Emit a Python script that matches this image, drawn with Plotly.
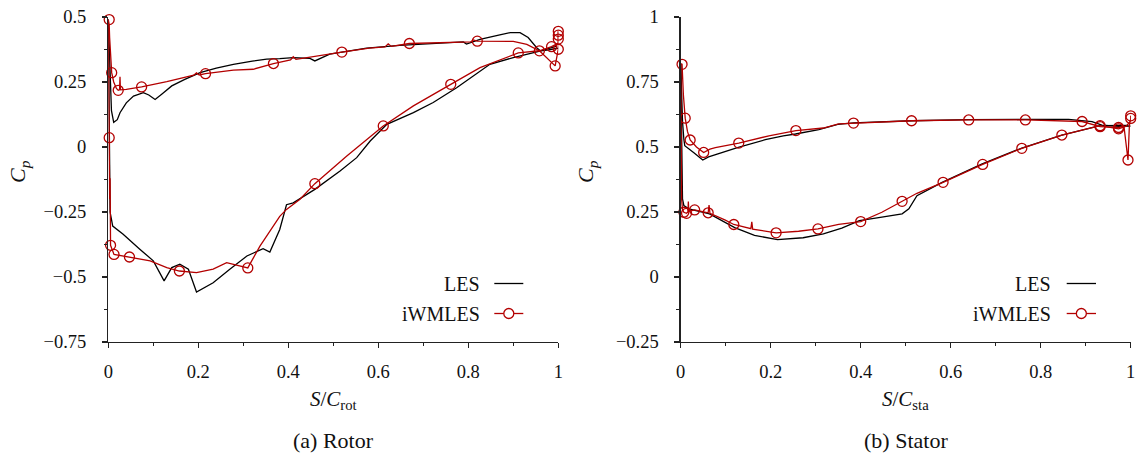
import plotly.graph_objects as go

# ---------------- Data ----------------
# Rotor, LES
rot_les_up_s = [0.0, 0.002, 0.004, 0.007, 0.012, 0.02, 0.026, 0.04, 0.056, 0.078, 0.09, 0.104, 0.12, 0.141, 0.17, 0.204, 0.24, 0.278, 0.32, 0.352, 0.381, 0.411, 0.448, 0.459, 0.492, 0.574, 0.648, 0.722, 0.789, 0.796, 0.826, 0.87, 0.893, 0.915, 0.933, 0.952, 0.96, 0.98, 1.0]
rot_les_up_cp = [0.49, 0.40, 0.25, 0.14, 0.095, 0.105, 0.132, 0.17, 0.196, 0.209, 0.2, 0.183, 0.205, 0.235, 0.26, 0.286, 0.303, 0.318, 0.33, 0.338, 0.34, 0.344, 0.341, 0.331, 0.357, 0.38, 0.391, 0.399, 0.404, 0.396, 0.414, 0.431, 0.44, 0.44, 0.421, 0.382, 0.37, 0.374, 0.38]
rot_les_lo_s = [0.0, 0.001, 0.002, 0.004, 0.0098, 0.033, 0.07, 0.1, 0.124, 0.141, 0.159, 0.178, 0.196, 0.233, 0.27, 0.308, 0.344, 0.359, 0.381, 0.396, 0.411, 0.459, 0.515, 0.552, 0.582, 0.619, 0.678, 0.722, 0.774, 0.811, 0.848, 0.9, 0.959, 0.996]
rot_les_lo_cp = [0.49, 0.2, -0.1, -0.25, -0.304, -0.336, -0.393, -0.438, -0.515, -0.464, -0.451, -0.47, -0.558, -0.522, -0.47, -0.419, -0.391, -0.404, -0.317, -0.222, -0.215, -0.163, -0.092, -0.041, 0.023, 0.087, 0.132, 0.171, 0.228, 0.273, 0.318, 0.344, 0.369, 0.388]

# Rotor, iWMLES
rot_iw_up_s = [0.0, 0.002, 0.003, 0.004, 0.005, 0.0075, 0.012, 0.018, 0.022, 0.025, 0.026, 0.027, 0.04, 0.074, 0.13, 0.19, 0.196, 0.202, 0.216, 0.278, 0.322, 0.367, 0.405, 0.411, 0.417, 0.46, 0.519, 0.58, 0.615, 0.622, 0.629, 0.669, 0.75, 0.805, 0.811, 0.82, 0.9, 0.93, 0.958, 0.985, 1.0, 1.0, 1.0]
rot_iw_up_cp = [0.49, 0.47, 0.42, 0.38, 0.33, 0.286, 0.25, 0.225, 0.218, 0.22, 0.27, 0.22, 0.222, 0.231, 0.251, 0.276, 0.285, 0.277, 0.282, 0.296, 0.299, 0.321, 0.335, 0.347, 0.337, 0.35, 0.365, 0.38, 0.385, 0.397, 0.387, 0.398, 0.403, 0.404, 0.412, 0.407, 0.406, 0.395, 0.37, 0.386, 0.40, 0.43, 0.445]
rot_iw_lo_s = [0.0, 0.001, 0.002, 0.002, 0.003, 0.004, 0.004, 0.005, 0.0127, 0.047, 0.093, 0.13, 0.158, 0.196, 0.233, 0.263, 0.285, 0.31, 0.337, 0.367, 0.381, 0.396, 0.426, 0.459, 0.53, 0.611, 0.678, 0.761, 0.826, 0.911, 0.958, 0.993, 1.0, 1.0, 1.0]
rot_iw_lo_cp = [0.49, 0.3, 0.036, -0.1, -0.2, -0.12, -0.3, -0.378, -0.413, -0.423, -0.438, -0.464, -0.477, -0.483, -0.47, -0.445, -0.455, -0.465, -0.381, -0.304, -0.267, -0.24, -0.201, -0.141, -0.035, 0.081, 0.158, 0.241, 0.305, 0.362, 0.37, 0.312, 0.376, 0.42, 0.445]
rot_iw_mk_s = [0.002, 0.0075, 0.022, 0.074, 0.216, 0.367, 0.519, 0.669, 0.82, 0.958, 1.0, 1.0, 1.0, 0.002, 0.005, 0.0127, 0.047, 0.158, 0.31, 0.459, 0.611, 0.761, 0.911, 0.985, 0.993, 1.0]
rot_iw_mk_cp = [0.49, 0.286, 0.218, 0.231, 0.282, 0.321, 0.365, 0.398, 0.407, 0.37, 0.445, 0.43, 0.415, 0.036, -0.378, -0.413, -0.423, -0.477, -0.465, -0.141, 0.081, 0.241, 0.362, 0.386, 0.312, 0.376]

# Stator, LES
sta_les_up_s = [0.0, 0.002, 0.004, 0.007, 0.009, 0.03, 0.049, 0.062, 0.077, 0.126, 0.188, 0.228, 0.255, 0.307, 0.349, 0.384, 0.514, 0.64, 0.766, 0.862, 0.914, 0.936, 0.973, 1.0]
sta_les_up_cp = [0.82, 0.7, 0.6, 0.53, 0.505, 0.477, 0.45, 0.462, 0.47, 0.498, 0.528, 0.543, 0.55, 0.567, 0.587, 0.593, 0.601, 0.605, 0.606, 0.606, 0.598, 0.584, 0.579, 0.58]
sta_les_lo_s = [0.0, 0.001, 0.002, 0.004, 0.007, 0.018, 0.064, 0.12, 0.164, 0.215, 0.272, 0.317, 0.358, 0.397, 0.44, 0.492, 0.507, 0.525, 0.581, 0.67, 0.758, 0.847, 0.932, 0.995]
sta_les_lo_cp = [0.82, 0.6, 0.4, 0.3, 0.275, 0.262, 0.243, 0.19, 0.16, 0.144, 0.151, 0.166, 0.188, 0.217, 0.228, 0.243, 0.262, 0.313, 0.364, 0.435, 0.496, 0.546, 0.582, 0.583]

# Stator, iWMLES
sta_iw_up_s = [0.0, 0.003, 0.006, 0.01, 0.015, 0.021, 0.035, 0.051, 0.065, 0.077, 0.129, 0.196, 0.256, 0.317, 0.351, 0.384, 0.513, 0.64, 0.766, 0.892, 0.932, 0.973, 0.985, 0.994, 0.997, 1.0, 1.0]
sta_iw_up_cp = [0.82, 0.818, 0.7, 0.611, 0.56, 0.527, 0.5, 0.479, 0.492, 0.498, 0.515, 0.543, 0.563, 0.573, 0.589, 0.592, 0.601, 0.604, 0.604, 0.598, 0.578, 0.575, 0.58, 0.45, 0.58, 0.61, 0.62]
sta_iw_lo_s = [0.0, 0.001, 0.002, 0.004, 0.007, 0.013, 0.016, 0.017, 0.018, 0.031, 0.061, 0.063, 0.065, 0.098, 0.118, 0.156, 0.158, 0.16, 0.212, 0.262, 0.305, 0.351, 0.4, 0.447, 0.492, 0.525, 0.583, 0.671, 0.758, 0.847, 0.932, 0.973, 0.99, 1.0, 1.0]
sta_iw_lo_cp = [0.82, 0.5, 0.3, 0.26, 0.249, 0.245, 0.25, 0.29, 0.252, 0.258, 0.247, 0.277, 0.245, 0.22, 0.202, 0.186, 0.212, 0.184, 0.17, 0.176, 0.185, 0.202, 0.213, 0.249, 0.291, 0.322, 0.364, 0.433, 0.495, 0.546, 0.582, 0.57, 0.58, 0.6, 0.62]
sta_iw_mk_s = [0.003, 0.01, 0.021, 0.051, 0.129, 0.256, 0.384, 0.513, 0.64, 0.766, 0.892, 0.932, 0.973, 0.994, 1.0, 1.0, 0.007, 0.013, 0.031, 0.061, 0.118, 0.212, 0.305, 0.4, 0.492, 0.583, 0.671, 0.758, 0.847, 0.932, 0.973]
sta_iw_mk_cp = [0.818, 0.611, 0.527, 0.479, 0.515, 0.563, 0.592, 0.601, 0.604, 0.604, 0.598, 0.578, 0.575, 0.45, 0.62, 0.61, 0.249, 0.245, 0.258, 0.247, 0.202, 0.17, 0.185, 0.213, 0.291, 0.364, 0.433, 0.495, 0.546, 0.582, 0.57]

x_ticks = [0, 0.2, 0.4, 0.6, 0.8, 1]
x_tick_text = ["0", "0.2", "0.4", "0.6", "0.8", "1"]
rot_y_ticks = [-0.75, -0.5, -0.25, 0, 0.25, 0.5]
rot_y_text = ["\u22120.75", "\u22120.5", "\u22120.25", "0", "0.25", "0.5"]
sta_y_ticks = [-0.25, 0, 0.25, 0.5, 0.75, 1]
sta_y_text = ["\u22120.25", "0", "0.25", "0.5", "0.75", "1"]

# ---------------- Styling ----------------
FONT = "Liberation Serif"
RED = "#b30000"
BLACK = "#000000"
AXC = "#222222"
TXT = "#111111"
W, H = 1138, 465

fig = go.Figure()

def add_panel(xa, ya, les_up, les_lo, iw_up, iw_lo, iw_mk):
    for s, c in (les_up, les_lo):
        fig.add_trace(go.Scatter(x=s, y=c, xaxis=xa, yaxis=ya, mode="lines",
                                 line=dict(color=BLACK, width=1.3), showlegend=False,
                                 hoverinfo="skip"))
    for s, c in (iw_up, iw_lo):
        fig.add_trace(go.Scatter(x=s, y=c, xaxis=xa, yaxis=ya, mode="lines",
                                 line=dict(color=RED, width=1.3), showlegend=False,
                                 hoverinfo="skip"))
    fig.add_trace(go.Scatter(x=iw_mk[0], y=iw_mk[1], xaxis=xa, yaxis=ya, mode="markers",
                             marker=dict(symbol="circle-open", size=10, color=RED,
                                         line=dict(color=RED, width=1.3)),
                             cliponaxis=False, showlegend=False, hoverinfo="skip"))

add_panel("x", "y", (rot_les_up_s, rot_les_up_cp), (rot_les_lo_s, rot_les_lo_cp),
          (rot_iw_up_s, rot_iw_up_cp), (rot_iw_lo_s, rot_iw_lo_cp), (rot_iw_mk_s, rot_iw_mk_cp))
add_panel("x2", "y2", (sta_les_up_s, sta_les_up_cp), (sta_les_lo_s, sta_les_lo_cp),
          (sta_iw_up_s, sta_iw_up_cp), (sta_iw_lo_s, sta_iw_lo_cp), (sta_iw_mk_s, sta_iw_mk_cp))

def px_x(p):
    return p / W

def px_y(p):
    return (H - p) / H

ydom = [px_y(342), px_y(17)]
common_x = dict(range=[0, 1], showgrid=False, zeroline=False, showline=True, automargin=False,
                linecolor=AXC, linewidth=1.3, ticks="outside", ticklen=5, tickwidth=1.2,
                tickcolor=AXC, tickmode="array", tickvals=x_ticks, ticktext=x_tick_text,
                tickfont=dict(family=FONT, size=18.5, color=TXT),
                minor=dict(tickmode="array", tickvals=[0.1, 0.3, 0.5, 0.7, 0.9],
                           ticks="outside", ticklen=3, tickwidth=1, tickcolor=AXC),
                ticklabelstandoff=7, fixedrange=True)
common_y = dict(showgrid=False, zeroline=False, showline=True, linecolor=AXC, linewidth=1.3,
                automargin=False,
                ticks="outside", ticklen=5, tickwidth=1.2, tickcolor=AXC, tickmode="array",
                tickfont=dict(family=FONT, size=18.5, color=TXT),
                ticklabelstandoff=12, fixedrange=True)

fig.update_layout(
    width=W, height=H, margin=dict(l=0, r=0, t=0, b=0, autoexpand=False),
    paper_bgcolor="white", plot_bgcolor="white", showlegend=False,
    font=dict(family=FONT, color=TXT),
    xaxis=dict(domain=[px_x(108.3), px_x(558.3)], anchor="y", **common_x),
    xaxis2=dict(domain=[px_x(680.7), px_x(1130.7)], anchor="y2", **common_x),
    yaxis=dict(domain=ydom, anchor="x", range=[-0.75, 0.5], tickvals=rot_y_ticks,
               ticktext=rot_y_text,
               minor=dict(tickmode="array", tickvals=[-0.625, -0.375, -0.125, 0.125, 0.375],
                          ticks="outside", ticklen=3, tickwidth=1, tickcolor=AXC),
               **common_y),
    yaxis2=dict(domain=ydom, anchor="x2", range=[-0.25, 1], tickvals=sta_y_ticks,
                ticktext=sta_y_text,
                minor=dict(tickmode="array", tickvals=[-0.125, 0.125, 0.375, 0.625, 0.875],
                           ticks="outside", ticklen=3, tickwidth=1, tickcolor=AXC),
                **common_y),
)

ann = []
shapes = []
panels = [
    dict(cx=333.3, ytx=19, lab="rot", cap="(a) Rotor", leg_r=481.7, ln0=494.3, ln1=523.3),
    dict(cx=905.7, ytx=587, lab="sta", cap="(b) Stator", leg_r=1053.3, ln0=1066.7, ln1=1096.0),
]
for p in panels:
    ann.append(dict(x=px_x(p["cx"]), y=px_y(400), xref="paper", yref="paper",
                    text="<i>S</i>/<i>C</i><sub>%s</sub>" % p["lab"], showarrow=False,
                    xanchor="center", yanchor="middle",
                    font=dict(family=FONT, size=21, color=TXT)))
    ann.append(dict(x=px_x(p["cx"]), y=px_y(440), xref="paper", yref="paper",
                    text=p["cap"], showarrow=False, xanchor="center", yanchor="middle",
                    font=dict(family=FONT, size=22, color=TXT)))
    ann.append(dict(x=px_x(p["ytx"]), y=px_y(172), xref="paper", yref="paper",
                    text="<i>C</i><sub><i>p</i></sub>", showarrow=False, textangle=-90,
                    xanchor="center", yanchor="middle",
                    font=dict(family=FONT, size=22, color=TXT)))
    for name, yy in (("LES", 283.5), ("iWMLES", 313.5)):
        ann.append(dict(x=px_x(p["leg_r"]), y=px_y(yy), xref="paper", yref="paper",
                        text=name, showarrow=False, xanchor="right", yanchor="middle",
                        font=dict(family=FONT, size=20, color=TXT)))
    shapes.append(dict(type="line", xref="paper", yref="paper",
                       x0=px_x(p["ln0"]), x1=px_x(p["ln1"]), y0=px_y(283.5), y1=px_y(283.5),
                       line=dict(color=BLACK, width=1.3)))
    shapes.append(dict(type="line", xref="paper", yref="paper",
                       x0=px_x(p["ln0"]), x1=px_x(p["ln1"]), y0=px_y(313.5), y1=px_y(313.5),
                       line=dict(color=RED, width=1.3)))
    cxp = (p["ln0"] + p["ln1"]) / 2
    shapes.append(dict(type="circle", xref="paper", yref="paper",
                       xsizemode="pixel", ysizemode="pixel",
                       xanchor=px_x(cxp), yanchor=px_y(313.5),
                       x0=-5, x1=5, y0=-5, y1=5,
                       line=dict(color=RED, width=1.3), fillcolor="white"))

fig.update_layout(annotations=ann, shapes=shapes)
fig.write_html("out.html", config={"displayModeBar": False, "staticPlot": True},
               post_script="document.body.style.margin='0px';document.body.style.overflow='hidden';")
